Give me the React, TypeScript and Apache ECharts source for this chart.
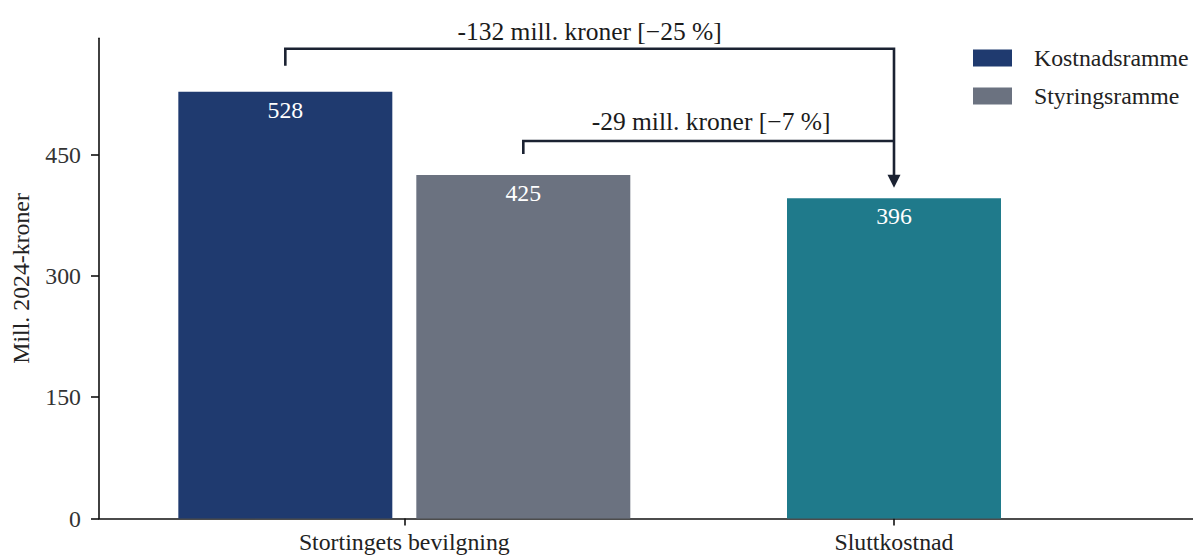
import React, { useEffect, useRef } from "react";
import * as echarts from "echarts";

// ---- data ----
const categories = ["Stortingets bevilgning", "Sluttkostnad"];
const seriesNames = ["Kostnadsramme", "Styringsramme", "Sluttkostnad"];
const kostnadsramme = [528]; // Stortingets bevilgning
const styringsramme = [425]; // Stortingets bevilgning
const sluttkostnad = [396]; // Sluttkostnad
const yTicks = [0, 150, 300, 450];
const annotationTexts = ["-132 mill. kroner [−25 %]", "-29 mill. kroner [−7 %]"];

// ---- styles ----
const FONT = "'Liberation Serif', 'DejaVu Serif', serif";
const COLORS = ["#1f3a6f", "#6b7280", "#1f7a8b"];
const LINE = "#1b2232";
const BAR_W = 0.437; // in category units
const OFFSET = 0.243; // group offset in category units
const Y_MAX = 594;
const FS = 23.8;

export default function App() {
  const ref = useRef<HTMLDivElement>(null);

  useEffect(() => {
    if (!ref.current) return;
    const chart = echarts.init(ref.current, null, { renderer: "svg" });

    const barRender = (color: string) => (params: any, api: any) => {
      const x = api.value(0);
      const y = api.value(1);
      const p0 = api.coord([x - BAR_W / 2, y]);
      const p1 = api.coord([x + BAR_W / 2, 0]);
      return {
        type: "group",
        children: [
          {
            type: "rect",
            shape: { x: p0[0], y: p0[1], width: p1[0] - p0[0], height: p1[1] - p0[1] },
            style: { fill: color },
          },
          {
            type: "text",
            x: (p0[0] + p1[0]) / 2,
            y: p0[1] + 18,
            style: {
              text: String(y),
              fill: "#ffffff",
              fontSize: FS,
              fontFamily: FONT,
              align: "center",
              verticalAlign: "middle",
            },
          },
        ],
      };
    };

    const k = kostnadsramme[0];
    const s = styringsramme[0];
    const e = sluttkostnad[0];
    const xK = 0 - OFFSET;
    const xS = 0 + OFFSET;
    const xE = 1;

    const annRender = (params: any, api: any) => {
      const topLevel = k + 53;
      const topTick = k + 32;
      const midLevel = s + 42;
      const midTick = s + 26;
      const arrowTip = e + 13;
      const a = api.coord([xK, topLevel]);
      const aTick = api.coord([xK, topTick]);
      const b = api.coord([xE, topLevel]);
      const c = api.coord([xS, midLevel]);
      const cTick = api.coord([xS, midTick]);
      const d = api.coord([xE, midLevel]);
      const tip = api.coord([xE, arrowTip]);
      const t1 = api.coord([(xK + xE) / 2, k + 75]);
      const t2 = api.coord([(xS + xE) / 2 + 0.005, s + 66]);
      const lw = 2.6;
      return {
        type: "group",
        children: [
          {
            type: "polyline",
            shape: { points: [aTick, a, b, [tip[0], tip[1] - 12]] },
            style: { stroke: LINE, lineWidth: lw, fill: null },
          },
          {
            type: "polyline",
            shape: { points: [cTick, c, d] },
            style: { stroke: LINE, lineWidth: lw, fill: null },
          },
          {
            type: "polygon",
            shape: {
              points: [
                [tip[0] - 6.5, tip[1] - 13],
                [tip[0] + 6.5, tip[1] - 13],
                [tip[0], tip[1]],
              ],
            },
            style: { fill: LINE },
          },
          {
            type: "text",
            x: t1[0],
            y: t1[1],
            style: {
              text: annotationTexts[0],
              fill: "#1b1b1b",
              fontSize: 25.5,
              fontFamily: FONT,
              align: "center",
              verticalAlign: "middle",
            },
          },
          {
            type: "text",
            x: t2[0],
            y: t2[1],
            style: {
              text: annotationTexts[1],
              fill: "#1b1b1b",
              fontSize: 25.5,
              fontFamily: FONT,
              align: "center",
              verticalAlign: "middle",
            },
          },
        ],
      };
    };

    chart.setOption({
      animation: false,
      grid: { left: 99, right: 0, top: 38.3, bottom: 37.5, containLabel: false },
      legend: {
        data: [seriesNames[0], seriesNames[1]],
        orient: "vertical",
        left: 973,
        top: 46,
        padding: 0,
        itemWidth: 39,
        itemHeight: 17,
        itemGap: 14,
        icon: "rect",
        selectedMode: false,
        textStyle: { fontSize: FS, fontFamily: FONT, color: "#222", padding: [0, 0, 0, 17] },
      },
      xAxis: {
        type: "value",
        min: -0.6235,
        max: 1.6106,
        splitLine: { show: false },
        axisLine: { show: true, onZero: false, lineStyle: { color: "#111", width: 1.6 } },
        axisTick: { show: true, customValues: [0, 1], length: 7, lineStyle: { color: "#111", width: 1.6 } },
        axisLabel: {
          customValues: [0, 1],
          formatter: (v: number) => categories[Math.round(v)] ?? "",
          fontSize: FS,
          fontFamily: FONT,
          color: "#222",
          margin: 11,
        },
      },
      yAxis: {
        type: "value",
        min: 0,
        max: Y_MAX,
        interval: 150,
        name: "Mill. 2024-kroner",
        nameLocation: "middle",
        nameRotate: 90,
        nameGap: 66,
        nameTextStyle: { fontSize: FS, fontFamily: FONT, color: "#222" },
        splitLine: { show: false },
        axisLine: { show: true, onZero: false, lineStyle: { color: "#111", width: 1.6 } },
        axisTick: { show: true, customValues: yTicks, length: 8, lineStyle: { color: "#111", width: 1.6 } },
        axisLabel: {
          customValues: yTicks,
          fontSize: FS,
          fontFamily: FONT,
          color: "#333",
          margin: 18,
        },
      },
      series: [
        {
          type: "custom",
          name: seriesNames[0],
          itemStyle: { color: COLORS[0] },
          renderItem: barRender(COLORS[0]),
          data: [[xK, k]],
          clip: false,
        },
        {
          type: "custom",
          name: seriesNames[1],
          itemStyle: { color: COLORS[1] },
          renderItem: barRender(COLORS[1]),
          data: [[xS, s]],
          clip: false,
        },
        {
          type: "custom",
          name: seriesNames[2],
          itemStyle: { color: COLORS[2] },
          renderItem: barRender(COLORS[2]),
          data: [[xE, e]],
          clip: false,
        },
        {
          type: "custom",
          name: "annotations",
          silent: true,
          renderItem: annRender,
          data: [[0, 0]],
          clip: false,
          z: 5,
        },
      ],
    });

    return () => chart.dispose();
  }, []);

  return (
    <div
      ref={ref}
      style={{ position: "fixed", left: 0, top: 0, width: 1193, height: 556, background: "#fff" }}
    />
  );
}
